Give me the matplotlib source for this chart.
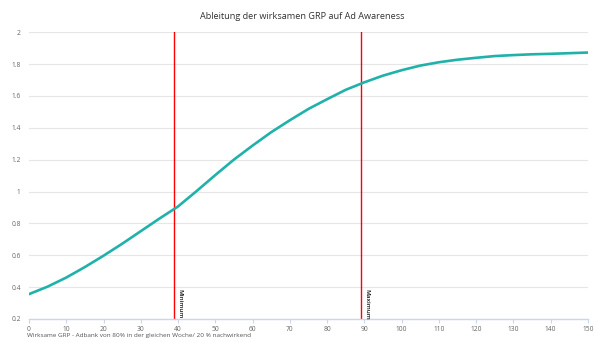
import numpy as np
import matplotlib.pyplot as plt
from matplotlib.ticker import FuncFormatter

plt.rcParams['font.family'] = ['Open Sans', 'DejaVu Sans']

# Werte
grp = [0, 5, 10, 15, 20, 25, 30, 35, 40, 45, 50, 55, 60, 65, 70, 75,
       80, 85, 90, 95, 100, 105, 110, 115, 120, 125, 130, 135, 140, 145, 150]
awareness = [0.356, 0.403, 0.46, 0.526, 0.597, 0.672, 0.751, 0.83, 0.906, 1.003,
             1.103, 1.20, 1.288, 1.372, 1.447, 1.518, 1.579, 1.638, 1.685, 1.727,
             1.761, 1.79, 1.811, 1.827, 1.839, 1.85, 1.856, 1.861, 1.864, 1.868, 1.872]
plot_lines = [39, 89]
plot_labels = ["Minimum", "Maximum"]

fig = plt.figure(figsize=(5.98, 3.42), dpi=100)
ax = fig.add_axes([0.0485, 0.0673, 0.9345, 0.8387])

ax.plot(grp, awareness, color='#20b2aa', lw=1.9, solid_capstyle='round',
        solid_joinstyle='round', zorder=3)

for xv, lab in zip(plot_lines, plot_labels):
    ax.axvline(xv, color='#ff0000', lw=1.0, zorder=2)
    ax.text(xv + 0.9, 0.388, lab, rotation=-90, ha='left', va='top',
            fontsize=4.5, color='#111111', fontweight='semibold', zorder=4)

ax.set_xlim(0, 150)
ax.set_ylim(0.2, 2)
ax.set_xticks(np.arange(0, 151, 10))
ax.set_yticks(np.arange(0.2, 2.01, 0.2))
ax.yaxis.set_major_formatter(FuncFormatter(lambda v, p: f"{v:g}" if abs(v - round(v)) > 1e-9 else f"{int(round(v))}"))
ax.grid(axis='y', color='#e6e6e6', lw=0.8)
ax.set_axisbelow(True)
for s in ['top', 'right', 'left']:
    ax.spines[s].set_visible(False)
ax.spines['bottom'].set_color('#ccd6eb')
ax.spines['bottom'].set_linewidth(1.0)
ax.tick_params(axis='y', length=0, labelsize=4.8, labelcolor='#666666', pad=6)
ax.tick_params(axis='x', length=3, width=0.8, color='#ccd6eb', labelsize=4.8, labelcolor='#666666', pad=2)

fig.text(0.506, 0.953, "Ableitung der wirksamen GRP auf Ad Awareness", ha='center', va='center',
         fontsize=6.6, color='#333333')
fig.text(0.045, 0.018, "Wirksame GRP - Adbank von 80% in der gleichen Woche/ 20 % nachwirkend",
         ha='left', va='center', fontsize=4.6, color='#555555')

fig.savefig('out.png', dpi=100)
